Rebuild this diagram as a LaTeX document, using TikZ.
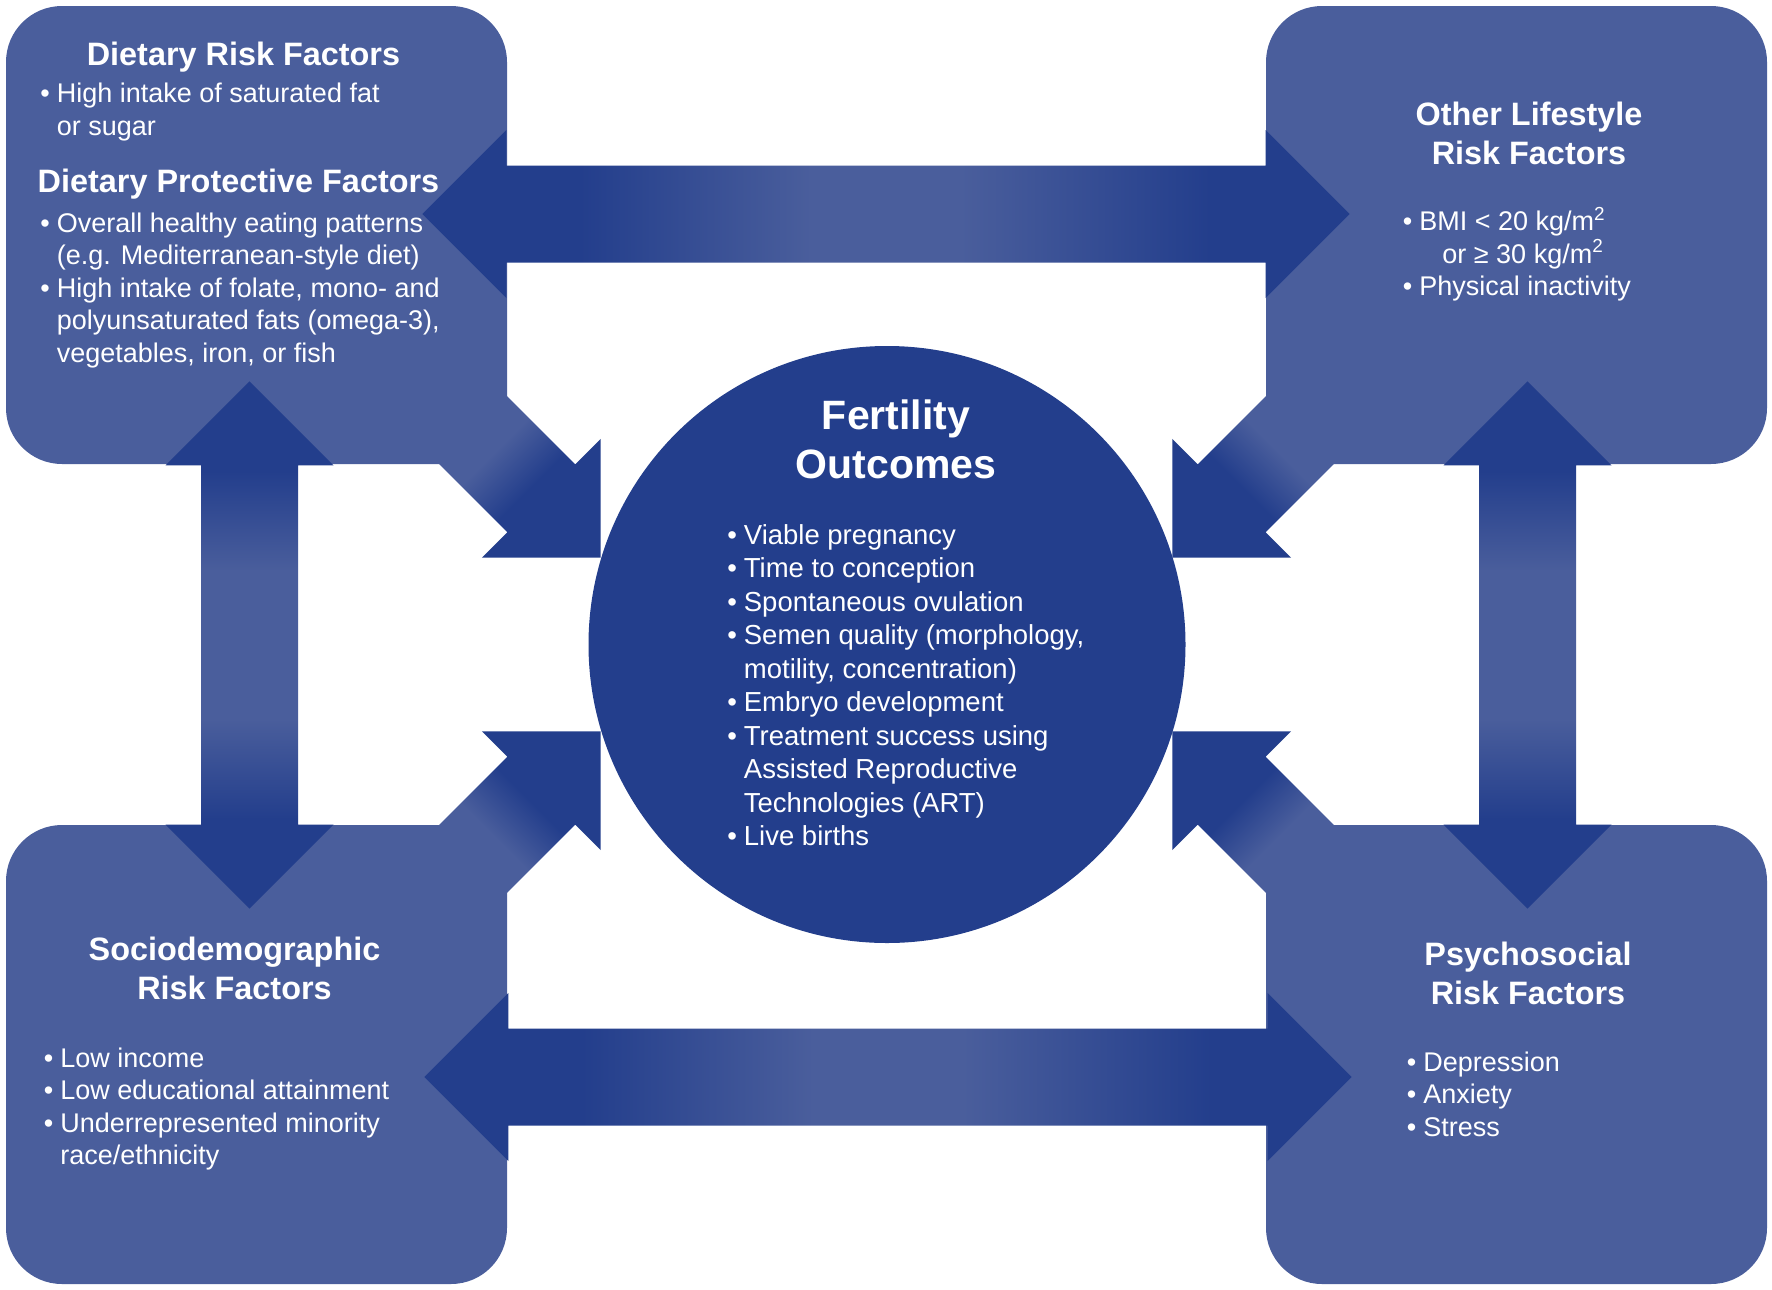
\documentclass[tikz,border=0pt]{standalone}
\usepackage{fontspec}
\setmainfont{Liberation Sans}
\usetikzlibrary{calc}
\definecolor{boxblue}{RGB}{74,94,156}
\definecolor{darkblue}{RGB}{35,62,140}
\pgfdeclarehorizontalshading{harrow}{100bp}{color(0bp)=(darkblue); color(33.5bp)=(darkblue); color(46bp)=(boxblue); color(54bp)=(boxblue); color(67.5bp)=(darkblue); color(100bp)=(darkblue)}
\pgfdeclareverticalshading{varrow}{100bp}{color(0bp)=(darkblue); color(33.5bp)=(darkblue); color(43bp)=(boxblue); color(57bp)=(boxblue); color(66.5bp)=(darkblue); color(100bp)=(darkblue)}
\pgfdeclarehorizontalshading{darrow}{100bp}{color(0bp)=(boxblue); color(39.6bp)=(boxblue); color(51.7bp)=(darkblue); color(100bp)=(darkblue)}
\newcommand\mybul{\makebox[8.25pt][l]{\textbullet}}
\newcommand\myind{\hspace*{8.25pt}}
\newcommand\emstrut{\rule{0pt}{1em}}
% horizontal double block arrow between two tips
\newcommand\hdarrow[2]{%
  \shade[shading=harrow] (#1) -- ($(#1)+(84,-84)$) -- ($(#1)+(84,-48.5)$) -- ($(#2)+(-84,-48.5)$) -- ($(#2)+(-84,-84)$) -- (#2) -- ($(#2)+(-84,84)$) -- ($(#2)+(-84,48.5)$) -- ($(#1)+(84,48.5)$) -- ($(#1)+(84,84)$) -- cycle;}
% vertical double block arrow between top tip and bottom tip
\newcommand\vdarrow[2]{%
  \shade[shading=varrow] (#1) -- ($(#1)+(84,84)$) -- ($(#1)+(48.5,84)$) -- ($(#2)+(48.5,-84)$) -- ($(#2)+(84,-84)$) -- (#2) -- ($(#2)+(-84,-84)$) -- ($(#2)+(-48.5,-84)$) -- ($(#1)+(-48.5,84)$) -- ($(#1)+(-84,84)$) -- cycle;}
% diagonal block arrow from a box corner towards the circle
\newcommand\diagarrow[2]{%
  \begin{scope}[transform canvas={shift={(#1)}, rotate=#2}]
    \shade[shading=darrow] (-80,-48) -- (48,-48) -- (48,-84) -- (132,0) -- (48,84) -- (48,48) -- (-80,48) -- cycle;
  \end{scope}}
\begin{document}
\begin{tikzpicture}[x=0.5pt, y=-0.5pt,
  fbox/.style={fill=boxblue, rounded corners=28pt, minimum width=250.5pt, minimum height=229pt, inner sep=0pt, draw=none},
  ttl/.style={text=white, font=\fontsize{16.2}{19.5}\selectfont\bfseries, align=center, inner sep=0pt, anchor=north},
  lst/.style={text=white, font=\fontsize{13.5}{16.25}\selectfont, align=left, inner sep=0pt, anchor=north west}]
\useasboundingbox (0,0) rectangle (1772,1290);
\fill[white] (0,0) rectangle (1772,1290);
% boxes
\node[fbox] (tl) at (256.5,235) {};
\node[fbox] (tr) at (1516.5,235) {};
\node[fbox, minimum height=229.5pt] (bl) at (256.5,1054.5) {};
\node[fbox, minimum height=229.5pt] (br) at (1516.5,1054.5) {};
% arrow end points
\coordinate (tA) at ($(tl.east)+(-85,-21)$);
\coordinate (tB) at ($(tr.west)+(84,-21)$);
\coordinate (bA) at ($(bl.east)+(-83,22.5)$);
\coordinate (bB) at ($(br.west)+(86,22.5)$);
\coordinate (lA) at ($(tl.south)+(-7,-83)$);
\coordinate (lB) at ($(bl.north)+(-7,84)$);
\coordinate (rA) at ($(tr.south)+(11,-83)$);
\coordinate (rB) at ($(br.north)+(11,84)$);
% straight double arrows
\hdarrow{tA}{tB}
\hdarrow{bA}{bB}
\vdarrow{lA}{lB}
\vdarrow{rA}{rB}
% diagonal arrows
\diagarrow{tl.south east}{-45}
\diagarrow{tr.south west}{-135}
\diagarrow{bl.north east}{45}
\diagarrow{br.north west}{135}
% centre circle
\node[circle, fill=darkblue, minimum size=298.5pt, inner sep=0pt] (fo) at (887,644.5) {};
% texts
\node[ttl] (tlh1) at (243.5,32.6) {\emstrut Dietary Risk Factors};
\node[lst] (tll1) at (40,75.5) {\emstrut\mybul High intake of saturated fat\\\myind or sugar};
\node[ttl] (tlh2) at (238.5,159.6) {\emstrut Dietary Protective Factors};
\node[lst] (tll2) at (40,205) {\emstrut\mybul Overall healthy eating patterns\\\myind (e.g. Mediterranean-style diet)\\\mybul High intake of folate, mono- and\\\myind polyunsaturated fats (omega-3),\\\myind vegetables, iron, or fish};
\node[ttl] (trh) at (1529,93.1) {\emstrut Other Lifestyle\\Risk Factors};
\node[lst] (trl) at (1402.5,203.5) {\emstrut\mybul BMI < 20 kg/m\textsuperscript{2}\\\myind\hspace*{11.5pt}or ≥ 30 kg/m\textsuperscript{2}\\\mybul Physical inactivity};
\node[ttl] (blh) at (234.5,928.1) {\emstrut Sociodemographic\\Risk Factors};
\node[lst] (bll) at (43.5,1040) {\emstrut\mybul Low income\\\mybul Low educational attainment\\\mybul Underrepresented minority\\\myind race/ethnicity};
\node[ttl] (brh) at (1528,933.1) {\emstrut Psychosocial\\Risk Factors};
\node[lst] (brl) at (1406.5,1044) {\emstrut\mybul Depression\\\mybul Anxiety\\\mybul Stress};
\node[ttl, font=\fontsize{20.5}{24.5}\selectfont\bfseries] (foh) at (896,387.7) {\emstrut Fertility\\Outcomes};
\node[lst, font=\fontsize{13.75}{16.75}\selectfont] (fol) at (727,516.5) {\emstrut\mybul Viable pregnancy\\\mybul Time to conception\\\mybul Spontaneous ovulation\\\mybul Semen quality (morphology,\\\myind motility, concentration)\\\mybul Embryo development\\\mybul Treatment success using\\\myind Assisted Reproductive\\\myind Technologies (ART)\\\mybul Live births};
\end{tikzpicture}
\end{document}
